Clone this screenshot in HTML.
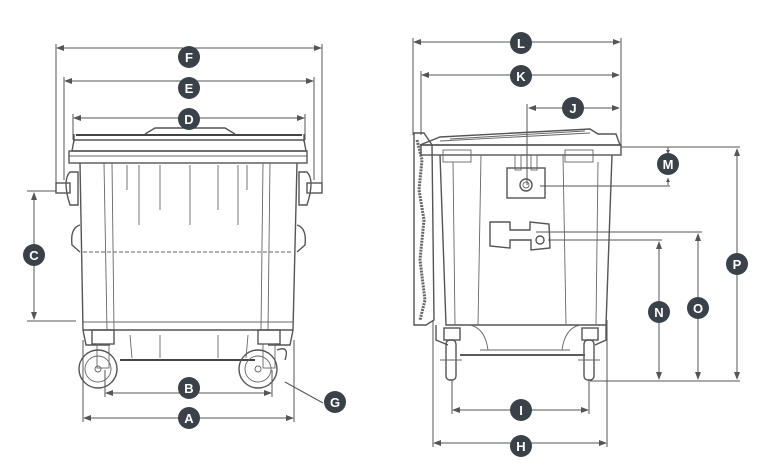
<!DOCTYPE html>
<html><head><meta charset="utf-8"><style>
html,body{margin:0;padding:0;background:#fff;}
svg{display:block;}
.b{fill:#3b4149;}
.t{fill:#fff;font-family:"Liberation Sans",sans-serif;font-weight:bold;font-size:13px;text-anchor:middle;}
.d{stroke:#555;stroke-width:1;fill:none;}
.s{stroke:#555;stroke-width:1.4;fill:none;}
.f{stroke:#666;stroke-width:0.9;fill:none;}
.ah{fill:#555;}
</style></head><body>
<svg width="757" height="463" viewBox="0 0 757 463" xmlns="http://www.w3.org/2000/svg">
<defs>
<marker id="a" markerWidth="8" markerHeight="6" refX="7" refY="3" orient="auto-start-reverse"><path d="M0,0 L8,3 L0,6 z" fill="#555"/></marker>
</defs>

<!-- ===== LEFT BIN ===== -->
<line class="d" x1="57" y1="48" x2="321" y2="48" marker-start="url(#a)" marker-end="url(#a)"/>
<line class="d" x1="56" y1="44" x2="56" y2="186"/><line class="d" x1="322" y1="44" x2="322" y2="186"/>
<line class="d" x1="65" y1="81" x2="313" y2="81" marker-start="url(#a)" marker-end="url(#a)"/>
<line class="d" x1="64" y1="77" x2="64" y2="180"/><line class="d" x1="314" y1="77" x2="314" y2="180"/>
<line class="d" x1="74" y1="118" x2="304" y2="118" marker-start="url(#a)" marker-end="url(#a)"/>
<line class="d" x1="73" y1="114" x2="73" y2="140"/><line class="d" x1="305" y1="114" x2="305" y2="140"/>
<line class="d" x1="34" y1="193" x2="34" y2="319" marker-start="url(#a)" marker-end="url(#a)"/>
<line class="d" x1="27" y1="191" x2="56" y2="191"/><line class="d" x1="27" y1="321" x2="76" y2="321"/>
<line class="d" x1="106" y1="393" x2="271" y2="393" marker-start="url(#a)" marker-end="url(#a)"/>
<line class="d" x1="105" y1="370" x2="105" y2="397"/><line class="d" x1="272" y1="370" x2="272" y2="397"/>
<line class="d" x1="84" y1="418" x2="293" y2="418" marker-start="url(#a)" marker-end="url(#a)"/>
<line class="d" x1="83" y1="340" x2="83" y2="422"/><line class="d" x1="294" y1="340" x2="294" y2="422"/>
<line class="d" x1="323" y1="403" x2="285" y2="382"/>

<!-- lid -->
<path class="s" d="M74,140 L304,140 L306,151 L72,151 Z"/>
<line x1="76" y1="135" x2="302" y2="135" stroke="#444" stroke-width="2"/>
<path class="s" d="M145,134 L155,128 L225,128 L235,134"/>
<line class="s" x1="74" y1="134" x2="74" y2="142"/><line class="s" x1="304" y1="134" x2="304" y2="142"/>
<!-- rim -->
<rect class="s" x="69" y="151" width="238" height="12"/>
<line class="f" x1="69" y1="156" x2="307" y2="156"/>
<!-- body -->
<path class="s" d="M80,163 L83,330 L293,330 L297,163"/>
<line class="f" x1="83" y1="252" x2="293" y2="252" stroke-dasharray="4,2"/>
<line class="f" x1="83" y1="322" x2="293" y2="322"/>
<line class="f" x1="104" y1="163" x2="107" y2="330"/><line class="f" x1="112" y1="163" x2="114" y2="330"/>
<line class="f" x1="263" y1="163" x2="261" y2="330"/><line class="f" x1="270" y1="163" x2="268" y2="330"/>
<line class="f" x1="127" y1="165" x2="127" y2="190"/>
<line class="f" x1="160" y1="165" x2="160" y2="210"/>
<line class="f" x1="190" y1="165" x2="190" y2="225"/>
<line class="f" x1="218" y1="165" x2="218" y2="210"/>
<line class="f" x1="247" y1="165" x2="247" y2="190"/>
<line class="f" x1="139" y1="165" x2="139" y2="225"/><line class="f" x1="238" y1="165" x2="238" y2="225"/>
<!-- handles -->
<rect class="s" x="56" y="183" width="14" height="10"/>
<path class="s" d="M70,172 Q62,180 70,205 L78,205 L78,172 Z"/>
<rect class="s" x="307" y="183" width="15" height="10"/>
<path class="s" d="M307,172 Q315,180 307,205 L299,205 L299,172 Z"/>
<path class="s" d="M80,225 Q70,228 72,245 L80,252"/>
<path class="s" d="M297,225 Q307,228 305,245 L297,252"/>
<!-- base -->
<path class="s" d="M83,330 L86,345 L110,345 M268,345 L290,345 L293,330"/>
<line x1="120" y1="360" x2="255" y2="360" stroke="#444" stroke-width="2"/>
<line class="f" x1="130" y1="335" x2="132" y2="358"/><line class="f" x1="160" y1="335" x2="160" y2="358"/>
<line class="f" x1="218" y1="335" x2="218" y2="358"/><line class="f" x1="248" y1="335" x2="246" y2="358"/>
<rect class="s" x="92" y="330" width="22" height="14"/>
<rect class="s" x="258" y="330" width="22" height="14"/>
<rect class="f" x="97" y="344" width="12" height="24"/>
<rect class="f" x="263" y="344" width="12" height="24"/>
<!-- wheels -->
<circle class="s" cx="98" cy="369" r="19"/><circle class="f" cx="98" cy="369" r="13"/><circle class="f" cx="98" cy="369" r="3"/>
<circle class="s" cx="258" cy="369" r="19"/><circle class="f" cx="258" cy="369" r="13"/><circle class="f" cx="258" cy="369" r="3"/>
<path class="s" d="M277,350 Q290,345 285,360"/>

<circle class="b" cx="189" cy="57" r="11"/><text class="t" x="189" y="62">F</text>
<circle class="b" cx="189" cy="88" r="11"/><text class="t" x="189" y="93">E</text>
<circle class="b" cx="189" cy="119" r="11"/><text class="t" x="189" y="124">D</text>
<circle class="b" cx="34" cy="255" r="11"/><text class="t" x="34" y="260">C</text>
<circle class="b" cx="189" cy="388" r="11"/><text class="t" x="189" y="393">B</text>
<circle class="b" cx="189" cy="418" r="11"/><text class="t" x="189" y="423">A</text>
<circle class="b" cx="335" cy="402" r="11"/><text class="t" x="335" y="407">G</text>

<!-- ===== RIGHT BIN ===== -->
<line class="d" x1="414" y1="42" x2="620" y2="42" marker-start="url(#a)" marker-end="url(#a)"/>
<line class="d" x1="413" y1="38" x2="413" y2="135"/><line class="d" x1="621" y1="38" x2="621" y2="150"/>
<line class="d" x1="422" y1="75" x2="619" y2="75" marker-start="url(#a)" marker-end="url(#a)"/>
<line class="d" x1="421" y1="71" x2="421" y2="135"/>
<line class="d" x1="529" y1="108" x2="619" y2="108" marker-start="url(#a)" marker-end="url(#a)"/>
<line class="d" x1="527" y1="104" x2="527" y2="185"/>
<line class="d" x1="621" y1="147" x2="740" y2="147"/>
<line class="d" x1="668" y1="147" x2="668" y2="152" /><line class="d" x1="668" y1="178" x2="668" y2="185"/>
<path class="ah" d="M666,150 L670,150 L668,154 z M666,182 L670,182 L668,178 z"/>
<line class="d" x1="540" y1="186" x2="670" y2="186"/>
<line class="d" x1="737" y1="149" x2="737" y2="379" marker-start="url(#a)" marker-end="url(#a)"/>
<line class="d" x1="536" y1="232" x2="702" y2="232"/>
<line class="d" x1="698" y1="234" x2="698" y2="379" marker-start="url(#a)" marker-end="url(#a)"/>
<line class="d" x1="548" y1="240" x2="662" y2="240"/>
<line class="d" x1="659" y1="242" x2="659" y2="379" marker-start="url(#a)" marker-end="url(#a)"/>
<line class="d" x1="590" y1="381" x2="740" y2="381"/>
<line class="d" x1="453" y1="410" x2="588" y2="410" marker-start="url(#a)" marker-end="url(#a)"/>
<line class="d" x1="452" y1="380" x2="452" y2="414"/><line class="d" x1="589" y1="380" x2="589" y2="414"/>
<line class="d" x1="434" y1="443" x2="606" y2="443" marker-start="url(#a)" marker-end="url(#a)"/>
<line class="d" x1="433" y1="320" x2="433" y2="447"/><line class="d" x1="607" y1="320" x2="607" y2="447"/>

<!-- lid -->
<path class="s" d="M420,145 L440,137 L590,129 L598,134 L616,134 L620,145 Z"/>
<line class="f" x1="440" y1="141" x2="590" y2="133"/>
<line class="f" x1="450" y1="139" x2="585" y2="131"/>
<path class="s" d="M414,133 L424,133 L432,145 L434,320 L426,325 L414,325 Z"/>
<path d="M417,140 L422,160 L419,190 L424,220 L420,260 L425,300 L420,320" stroke="#666" stroke-width="3" fill="none" stroke-dasharray="2,1"/>
<rect class="s" x="421" y="145" width="200" height="10"/>
<rect class="f" x="443" y="150" width="28" height="12"/>
<rect class="f" x="565" y="150" width="28" height="12"/>
<path class="s" d="M440,155 L446,325 L606,325 L612,155"/>
<path class="f" d="M481,155 L478,325 M563,155 L566,325"/>
<path class="f" d="M453,162 L455,325 M598,162 L596,325"/>
<rect class="s" x="507" y="168" width="38" height="30"/>
<rect class="f" x="515" y="155" width="6" height="15"/><rect class="f" x="531" y="155" width="6" height="15"/>
<circle class="s" cx="526" cy="185" r="6"/><circle class="f" cx="526" cy="185" r="3"/>
<path class="s" d="M490,222 L510,222 L510,230 L530,230 L530,222 L549,224 L550,248 L531,250 L531,240 L510,240 L510,248 L490,246 Z"/>
<circle class="s" cx="540" cy="240" r="4"/>
<path class="s" d="M436,325 L436,340 L448,345 M595,345 L606,340 L606,325"/>
<path class="f" d="M470,325 Q485,328 488,350 M580,325 Q565,328 562,350"/>
<line x1="460" y1="355" x2="585" y2="355" stroke="#444" stroke-width="1.8"/>
<line class="f" x1="480" y1="350" x2="570" y2="350"/>
<rect class="s" x="444" y="328" width="16" height="12"/>
<rect class="s" x="582" y="328" width="16" height="12"/>
<rect class="s" x="446" y="340" width="10" height="40" rx="4"/>
<rect class="s" x="584" y="340" width="10" height="40" rx="4"/>
<line class="f" x1="440" y1="360" x2="462" y2="360"/><line class="f" x1="578" y1="360" x2="600" y2="360"/>

<circle class="b" cx="521" cy="43" r="11"/><text class="t" x="521" y="48">L</text>
<circle class="b" cx="521" cy="76" r="11"/><text class="t" x="521" y="81">K</text>
<circle class="b" cx="573" cy="108" r="11"/><text class="t" x="573" y="113">J</text>
<circle class="b" cx="668" cy="164" r="11"/><text class="t" x="668" y="169">M</text>
<circle class="b" cx="737" cy="264" r="11"/><text class="t" x="737" y="269">P</text>
<circle class="b" cx="698" cy="308" r="11"/><text class="t" x="698" y="313">O</text>
<circle class="b" cx="659" cy="312" r="11"/><text class="t" x="659" y="317">N</text>
<circle class="b" cx="521" cy="410" r="11"/><text class="t" x="521" y="415">I</text>
<circle class="b" cx="521" cy="446" r="11"/><text class="t" x="521" y="451">H</text>
</svg>
</body></html>
